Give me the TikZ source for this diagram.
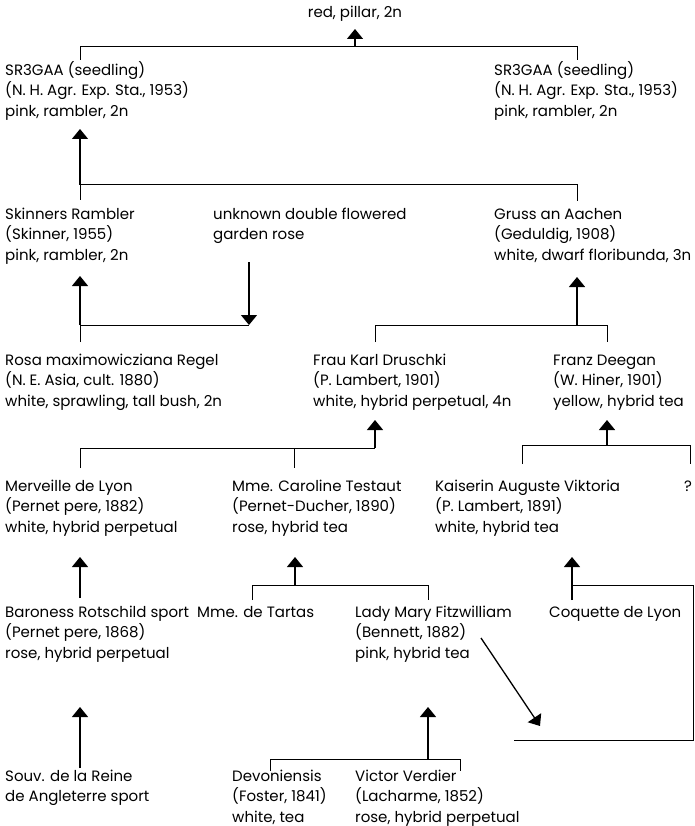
\documentclass[tikz,border=0pt]{standalone}
\usepackage{fontspec}
\newfontfamily\rosefont{Poppins}
\usetikzlibrary{arrows.meta}
\begin{document}
\begin{tikzpicture}[x=1pt,y=-1pt,
  rose/.style={anchor=north west, inner sep=0pt, align=left, font={\rosefont\fontsize{15}{20.5}\selectfont}, yshift=9.5pt},
  ln/.style={line width=1pt},
  arr/.style={line width=1.3pt, -{Triangle[width=16pt,length=10pt]}}]
\useasboundingbox (0,0) rectangle (694,826);
% ---- texts
\node[rose, anchor=north] (A) at (355,12) {\strut red, pillar, 2n};
\node[rose] (srL) at (5,70) {\strut SR3GAA (seedling)\\(N. H. Agr. Exp. Sta., 1953)\\pink, rambler, 2n};
\node[rose] (srR) at (494,70) {\strut SR3GAA (seedling)\\(N. H. Agr. Exp. Sta., 1953)\\pink, rambler, 2n};
\node[rose] (skin) at (5,214) {\strut Skinners Rambler\\(Skinner, 1955)\\pink, rambler, 2n};
\node[rose] (unk) at (213,214) {\strut unknown double flowered\\garden rose};
\node[rose] (gruss) at (494,214) {\strut Gruss an Aachen\\(Geduldig, 1908)\\white, dwarf floribunda, 3n};
\node[rose] (rosa) at (5,360) {\strut Rosa maximowicziana Regel\\(N. E. Asia, cult. 1880)\\white, sprawling, tall bush, 2n};
\node[rose] (frau) at (313,360) {\strut Frau Karl Druschki\\(P. Lambert, 1901)\\white, hybrid perpetual, 4n};
\node[rose] (franz) at (553,360) {\strut Franz Deegan\\(W. Hiner, 1901)\\yellow, hybrid tea};
\node[rose] (merv) at (5,486) {\strut Merveille de Lyon\\(Pernet pere, 1882)\\white, hybrid perpetual};
\node[rose] (test) at (232,486) {\strut Mme. Caroline Testaut\\(Pernet-Ducher, 1890)\\rose, hybrid tea};
\node[rose] (kais) at (435,486) {\strut Kaiserin Auguste Viktoria\\(P. Lambert, 1891)\\white, hybrid tea};
\node[rose, anchor=north] (q) at (688,486) {\strut ?};
\node[rose] (baron) at (5,612) {\strut Baroness Rotschild sport\\(Pernet pere, 1868)\\rose, hybrid perpetual};
\node[rose] (tartas) at (197,612) {\strut Mme. de Tartas};
\node[rose] (lady) at (355,612) {\strut Lady Mary Fitzwilliam\\(Bennett, 1882)\\pink, hybrid tea};
\node[rose] (coq) at (549,612) {\strut Coquette de Lyon};
\node[rose] (souv) at (5,776) {\strut Souv. de la Reine\\de Angleterre sport};
\node[rose] (devon) at (232,776) {\strut Devoniensis\\(Foster, 1841)\\white, tea};
\node[rose] (verd) at (355,776) {\strut Victor Verdier\\(Lacharme, 1852)\\rose, hybrid perpetual};
% ---- top cross
\coordinate (tA) at (355,29);
\coordinate (j1) at (355,47);
\coordinate (j1l) at (80,47);
\coordinate (j1r) at (577,47);
\coordinate (e1l) at (80,60);
\coordinate (e1r) at (577,60);
\draw[ln] (e1l) -- (j1l) -- (j1r) -- (e1r);
\draw[arr] (j1) -- (tA);
% SR3GAA left parents
\coordinate (tB) at (80,129);
\coordinate (j2l) at (80,185);
\coordinate (j2r) at (577,185);
\coordinate (e2l) at (80,200);
\coordinate (e2r) at (577,201);
\draw[ln] (e2l) -- (j2l) -- (j2r) -- (e2r);
\draw[arr] (j2l) -- (tB);
% Skinners Rambler parents
\coordinate (tC) at (80,276);
\coordinate (j3l) at (80,325);
\coordinate (e3l) at (80,342);
\coordinate (s3) at (249,262);
\coordinate (j3m) at (249,325);
\draw[ln] (e3l) -- (j3l) -- (j3m);
\draw[arr] (j3l) -- (tC);
\draw[arr] (s3) -- (j3m);
% Gruss an Aachen parents
\coordinate (tG) at (577,277);
\coordinate (j4) at (577,325);
\coordinate (j4l) at (375,325);
\coordinate (j4r) at (607,325);
\coordinate (e4l) at (375,342);
\coordinate (e4r) at (607,342);
\draw[ln] (e4l) -- (j4l) -- (j4r) -- (e4r);
\draw[arr] (j4) -- (tG);
% Frau Karl Druschki parents
\coordinate (tF) at (375,420);
\coordinate (j5) at (375,448);
\coordinate (j5l) at (80,448);
\coordinate (j5m) at (294,448);
\coordinate (e5l) at (80,468);
\coordinate (e5m) at (294,468);
\draw[ln] (e5l) -- (j5l) -- (j5) ;
\draw[ln] (j5m) -- (e5m);
\draw[arr] (j5) -- (tF);
% Franz Deegan parents
\coordinate (tD) at (607,420);
\coordinate (j6) at (607,445);
\coordinate (j6l) at (522,445);
\coordinate (j6r) at (690,445);
\coordinate (e6l) at (522,464);
\coordinate (e6r) at (690,464);
\draw[ln] (e6l) -- (j6l) -- (j6r) -- (e6r);
\draw[arr] (j6) -- (tD);
% Merveille de Lyon sport
\coordinate (tM) at (80,557);
\coordinate (sM) at (80,598);
\draw[arr] (sM) -- (tM);
% Testout parents
\coordinate (tT) at (295,557);
\coordinate (j7) at (295,585);
\coordinate (j7l) at (252,585);
\coordinate (j7r) at (428,585);
\coordinate (e7l) at (252,600);
\coordinate (e7r) at (428,600);
\draw[ln] (e7l) -- (j7l) -- (j7r) -- (e7r);
\draw[arr] (j7) -- (tT);
% Kaiserin parents
\coordinate (tK) at (572,557);
\coordinate (sK) at (572,600);
\coordinate (j8) at (572,585);
\coordinate (j8r) at (693,585);
\coordinate (j8b) at (693,740);
\coordinate (j8e) at (514,740);
\draw[arr] (sK) -- (tK);
\draw[ln] (j8) -- (j8r) -- (j8b) -- (j8e);
\coordinate (dS) at (481,638);
\coordinate (dT) at (540,726);
\draw[arr] (dS) -- (dT);
% Baroness sport
\coordinate (tR) at (80,707);
\coordinate (sR) at (80,768);
\draw[arr] (sR) -- (tR);
% Lady Mary parents
\coordinate (tL) at (428,707);
\coordinate (j9) at (428,759);
\coordinate (j9l) at (270,759);
\coordinate (j9r) at (460,759);
\coordinate (e9l) at (270,771);
\coordinate (e9r) at (460,771);
\draw[ln] (e9l) -- (j9l) -- (j9r) -- (e9r);
\draw[arr] (j9) -- (tL);
\end{tikzpicture}
\end{document}
